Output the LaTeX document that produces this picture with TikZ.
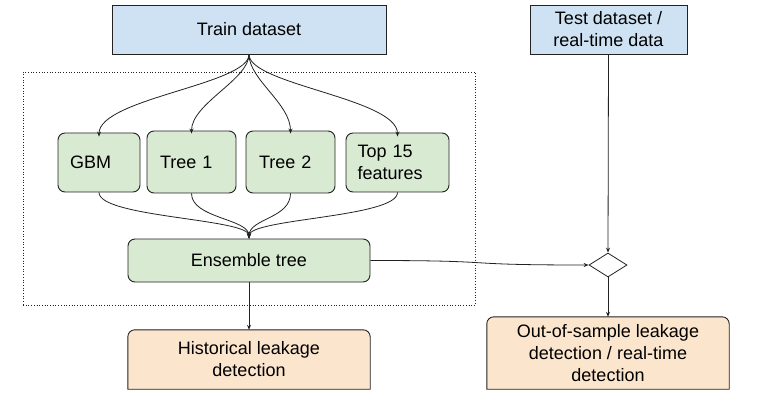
\documentclass[tikz,border=0pt]{standalone}
\usepackage{fontspec}
\setmainfont{Liberation Sans}
\usetikzlibrary{shapes.geometric,arrows.meta,backgrounds}
\definecolor{bluebox}{HTML}{CFE2F3}
\definecolor{greenbox}{HTML}{D9EAD3}
\definecolor{orangebox}{HTML}{FCE5CD}
\definecolor{edge}{HTML}{222222}
\begin{document}
\begin{tikzpicture}[x=1pt,y=-1pt,
  every node/.style={font=\fontsize{18}{22}\selectfont, text=black},
  bluenode/.style={draw=edge, line width=0.9pt, fill=bluebox, align=center, inner sep=0},
  greennode/.style={draw=edge, line width=0.9pt, fill=greenbox, rounded corners=7pt, inner sep=0},
  leftgreen/.style={greennode, align=left, text width=#1},
  orangenode/.style={align=center, inner sep=0},
  conn/.style={draw=edge, line width=0.8pt, -{Stealth[length=5pt,width=4pt]}},
  plain/.style={draw=edge, line width=0.8pt}
]
\useasboundingbox (0,0) rectangle (774,406);
% group
\node[draw=edge, dotted, line width=0.7pt, minimum width=452pt, minimum height=233pt, inner sep=0] (group) at (249,188.5) {};
% top nodes
\node[bluenode, minimum width=274pt, minimum height=49pt] (train) at (249,29.5) {Train dataset};
\node[bluenode, minimum width=157pt, minimum height=49pt] (test) at (608.5,29.5) {Test dataset /\\real-time data};
% green nodes
\node[leftgreen=58pt, minimum width=82pt, minimum height=59pt] (gbm) at (99,162.5) {GBM};
\node[leftgreen=63pt, minimum width=89pt, minimum height=62pt] (tree1) at (191.5,162) {Tree 1};
\node[leftgreen=63pt, minimum width=89pt, minimum height=62pt] (tree2) at (290.5,162) {Tree 2};
\node[leftgreen=80pt, minimum width=103pt, minimum height=59pt] (top15) at (397.5,162.5) {Top 15\\features};
\node[greennode, align=center, minimum width=242pt, minimum height=43pt] (ens) at (249,260.5) {Ensemble tree};
% diamond
\node[draw=edge, line width=0.8pt, fill=white, diamond, minimum width=38pt, minimum height=24pt, inner sep=0] (dia) at (608,265) {};
% orange nodes
\node[orangenode, minimum width=242pt, minimum height=59pt] (hist) at (249,359.5) {Historical leakage\\detection};
\node[orangenode, minimum width=242pt, minimum height=72pt] (oos) at (608,353) {Out-of-sample leakage\\detection / real-time\\detection};
\begin{scope}[on background layer]
  \draw[draw=edge, line width=0.9pt, fill=orangebox] (hist.south west) [rounded corners=7pt] -- (hist.north west) -- (hist.north east) [sharp corners] -- (hist.south east) -- cycle;
  \draw[draw=edge, line width=0.9pt, fill=orangebox] (oos.south west) [rounded corners=7pt] -- (oos.north west) -- (oos.north east) [sharp corners] -- (oos.south east) -- cycle;
\end{scope}
% fan out
\draw[conn] (train.south) .. controls +(0,30) and +(0,-38) .. ([yshift=-4pt]gbm.north);
\draw[conn] (train.south) .. controls +(0,25) and +(0,-30) .. ([yshift=-3pt]tree1.north);
\draw[conn] (train.south) .. controls +(0,25) and +(0,-30) .. ([yshift=-3pt]tree2.north);
\draw[conn] (train.south) .. controls +(0,30) and +(0,-38) .. ([yshift=-4pt]top15.north);
% fan in
\draw[conn] (gbm.south) .. controls +(0,25) and +(0,-20) .. (ens.north);
\draw[conn] (tree1.south) .. controls +(0,25) and +(0,-20) .. (ens.north);
\draw[conn] (tree2.south) .. controls +(0,25) and +(0,-20) .. (ens.north);
\draw[conn] (top15.south) .. controls +(0,25) and +(0,-20) .. (ens.north);
% others
\draw[conn] (ens.south) -- (hist.north);
\draw[conn] (ens.east) .. controls +(140,0) and +(-140,0) .. (dia.west);
\draw[conn] (test.south) -- (dia.north);
\draw[conn] (dia.south) -- (oos.north);
\end{tikzpicture}
\end{document}
